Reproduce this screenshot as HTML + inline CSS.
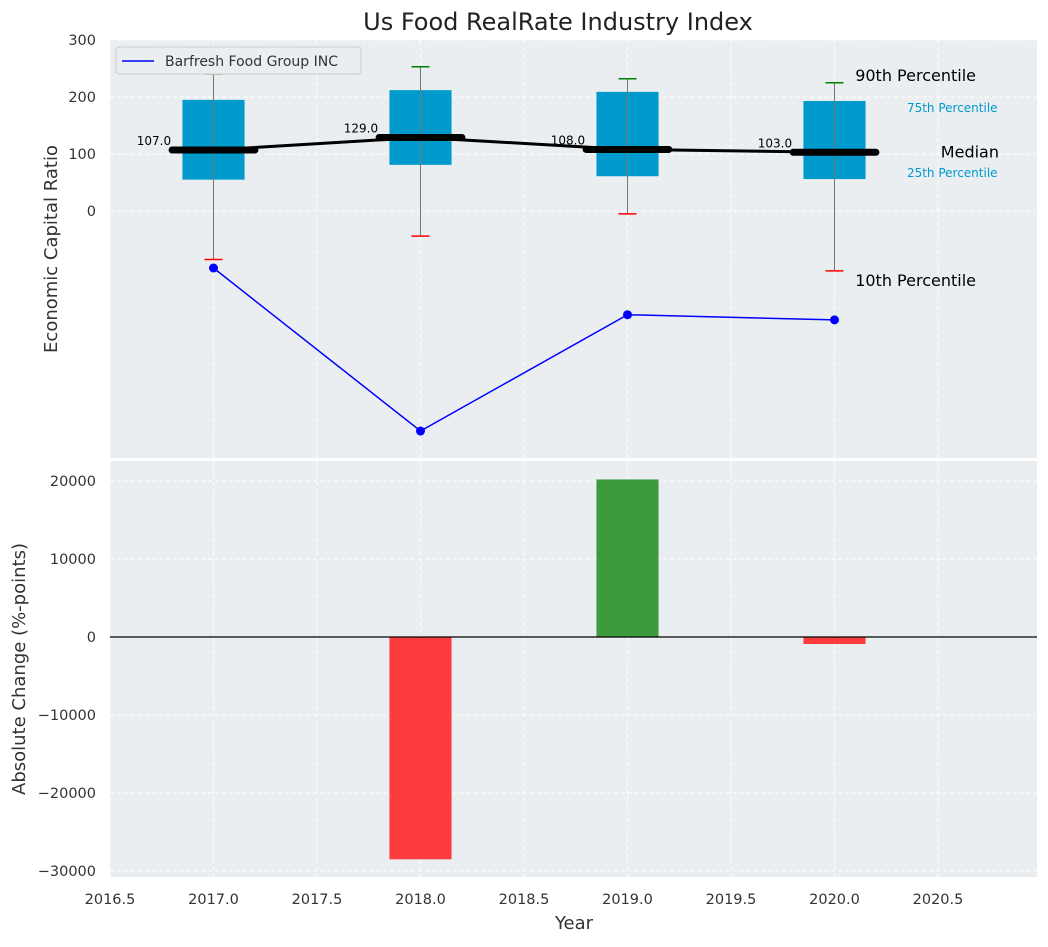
<!DOCTYPE html>
<html><head><meta charset="utf-8"><style>
body{margin:0;background:#fff;font-family:"Liberation Sans","DejaVu Sans",sans-serif}
svg text{font-family:"DejaVu Sans","Liberation Sans",sans-serif}
</style></head><body>
<svg id="c" width="1048" height="942" xmlns="http://www.w3.org/2000/svg">
<text x="558" y="30" font-size="24" text-anchor="middle" fill="#222">Us Food RealRate Industry Index</text>
<g id="topg"></g><g id="botg"></g>
</svg>
<script>
const years=[2017,2018,2019,2020];
const p10=[-85,-44,-5,-105];
const p25=[55,81,61,56];
const medians=[107,129,108,103];
const p75=[195,212,209,193];
const p90=[240,253,232,225];
const company=[-100,-386,-182,-191];
const changes=[null,-28500,20200,-900];
const xTicks=[2016.5,2017,2017.5,2018,2018.5,2019,2019.5,2020,2020.5];
const topTicks=[0,100,200,300];
const botTicks=[-30000,-20000,-10000,0,10000,20000];

const NS='http://www.w3.org/2000/svg';
const L=110,R=1037;
const x=v=>L+(v-2016.5)*207;
const yT=v=>211-v*0.57;
const yB=v=>637-v*0.0078;
function mk(parent,tag,attrs,txt){const e=document.createElementNS(NS,tag);for(const k in attrs)e.setAttribute(k,attrs[k]);if(txt!=null)e.textContent=txt;parent.appendChild(e);return e;}
const gTop=document.getElementById('topg'),gBot=document.getElementById('botg');

let bg=mk(gTop,'rect',{x:L,y:40,width:R-L,height:418,fill:'#eaeef0'});


let bg2=mk(gBot,'rect',{x:L,y:461,width:R-L,height:416,fill:'#eaeef0'});



xTicks.forEach(t=>{
  [[40,458,gTop],[461,877,gBot]].forEach(([a,b,g])=>{
    let l=mk(g,'line',{x1:x(t),x2:x(t),y1:a,y2:b,stroke:'#fff','stroke-dasharray':'4,3','stroke-width':1});
    
    
  });
  let tx=mk(gBot,'text',{x:x(t),y:904,'font-size':14.5,'text-anchor':'middle',fill:'#333'},t.toFixed(1));
  
  
});
topTicks.forEach(t=>{
  let l=mk(gTop,'line',{x1:L,x2:R,y1:yT(t),y2:yT(t),stroke:'#fff','stroke-dasharray':'4,3'});
  
  
  let tx=mk(gTop,'text',{x:96,y:yT(t)+5,'font-size':14.5,'text-anchor':'end',fill:'#333'},t);
  
  
});
botTicks.forEach(t=>{
  let l=mk(gBot,'line',{x1:L,x2:R,y1:yB(t),y2:yB(t),stroke:'#fff','stroke-dasharray':'4,3'});
  
  
  let tx=mk(gBot,'text',{x:96,y:yB(t)+5,'font-size':14.5,'text-anchor':'end',fill:'#333'},t<0?'\u2212'+(-t):t);
  
  
});

years.forEach((yr,i)=>{
  let b=mk(gTop,'rect',{x:x(yr-0.15),y:yT(p75[i]),width:0.3*207,height:yT(p25[i])-yT(p75[i]),fill:'#009acd'});
  
  
  let w=mk(gTop,'line',{x1:x(yr),x2:x(yr),y1:yT(p90[i]),y2:yT(p10[i]),stroke:'#777','stroke-width':1});
  
  
  let c1=mk(gTop,'line',{x1:x(yr)-9,x2:x(yr)+9,y1:yT(p90[i]),y2:yT(p90[i]),stroke:i==0?'#9c9':'green','stroke-width':1.5});
  
  
  let c2=mk(gTop,'line',{x1:x(yr)-9,x2:x(yr)+9,y1:yT(p10[i]),y2:yT(p10[i]),stroke:'red','stroke-width':1.5});
  
  
});
let mp=years.map((yr,i)=>x(yr)+','+yT(medians[i])).join(' ');
let ml=mk(gTop,'polyline',{points:mp,fill:'none',stroke:'#000','stroke-width':3});


years.forEach((yr,i)=>{
  let m=mk(gTop,'line',{x1:x(yr-0.2),x2:x(yr+0.2),y1:yT(medians[i]),y2:yT(medians[i]),stroke:'#000','stroke-width':7,'stroke-linecap':'round'});
  
  
  let t=mk(gTop,'text',{x:x(yr-0.2)-1,y:yT(medians[i])-5,'font-size':12,'text-anchor':'end',fill:'#000'},medians[i].toFixed(1));
  
  
});
let cp=years.map((yr,i)=>x(yr)+','+yT(company[i])).join(' ');
let cl=mk(gTop,'polyline',{points:cp,fill:'none',stroke:'blue','stroke-width':1.5});


years.forEach((yr,i)=>{
  let d=mk(gTop,'circle',{cx:x(yr),cy:yT(company[i]),r:4.5,fill:'blue'});
  
  
});
const li=years.length-1, ax=x(2020.1);
[[ '90th Percentile',yT(p90[li])-2,16,'#000',ax,'start'],
 ['75th Percentile',yT(p75[li])+11,12,'#009acd',x(2020.35),'start'],
 ['Median',yT(medians[li])+5,16,'#000',999,'end'],
 ['25th Percentile',yT(p25[li])-2,12,'#009acd',x(2020.35),'start'],
 ['10th Percentile',yT(p10[li])+15,16,'#000',ax,'start']].forEach(a=>{
  let t=mk(gTop,'text',{x:a[4],y:a[1],'font-size':a[2],fill:a[3],'text-anchor':a[5]},a[0]);
  
  
});
let lg=mk(gTop,'g',{});


mk(lg,'rect',{x:116,y:47,width:245,height:27,rx:3,fill:'#eaeef0',stroke:'#ccc'});
mk(lg,'line',{x1:122,x2:154,y1:61,y2:61,stroke:'blue','stroke-width':1.5});
mk(lg,'text',{x:165,y:66,'font-size':14,fill:'#333'},'Barfresh Food Group INC');

years.forEach((yr,i)=>{
  if(changes[i]==null)return;
  const v=changes[i];
  let b=mk(gBot,'rect',{x:x(yr-0.15),y:Math.min(yB(v),yB(0)),width:0.3*207,height:Math.abs(yB(v)-yB(0)),fill:v<0?'#fd3d3d':'#3c9b3c'});
  
  
});
let z=mk(gBot,'line',{x1:L,x2:R,y1:yB(0),y2:yB(0),stroke:'#000','stroke-width':1.2});



let t1=mk(gTop,'text',{x:0,y:0,'font-size':18,'text-anchor':'middle',fill:'#333',transform:'translate(57,249) rotate(-90)'},'Economic Capital Ratio');


let t2=mk(gBot,'text',{x:0,y:0,'font-size':18,'text-anchor':'middle',fill:'#333',transform:'translate(25,669) rotate(-90)'},'Absolute Change (%-points)');


let t3=mk(gBot,'text',{x:574,y:929,'font-size':18,'text-anchor':'middle',fill:'#333'},'Year');


</script>
</body></html>
